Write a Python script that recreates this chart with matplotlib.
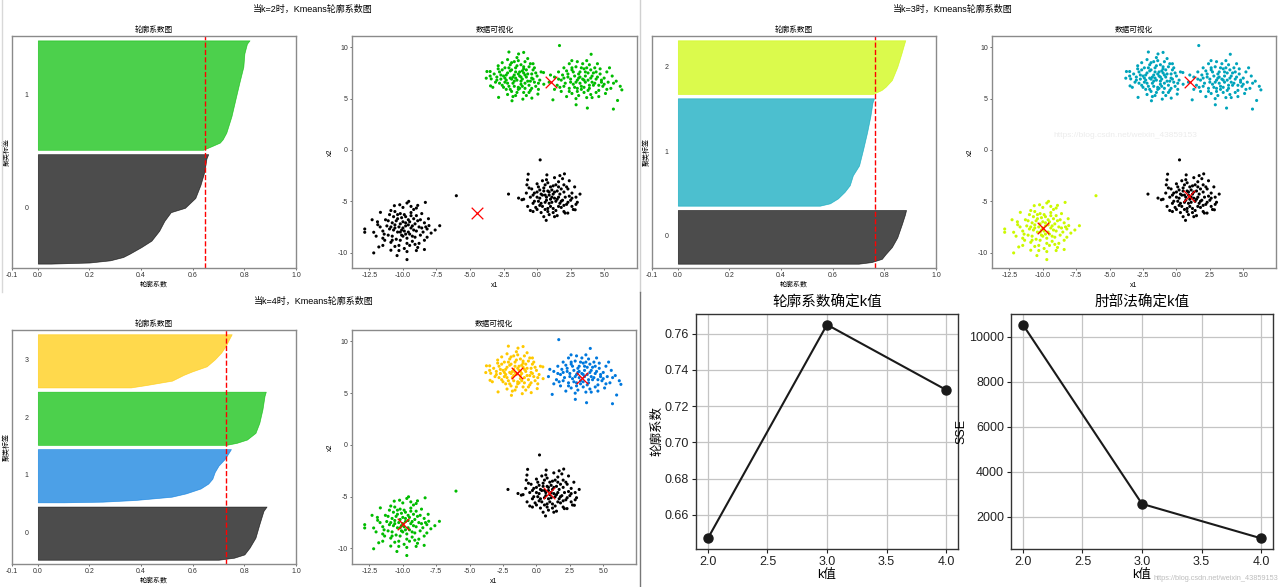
import numpy as np
import matplotlib
matplotlib.use("Agg")
import matplotlib.pyplot as plt
from matplotlib import cm
from matplotlib.lines import Line2D

plt.rcParams['font.family'] = ['Liberation Sans', 'Noto Sans CJK SC', 'DejaVu Sans']
plt.rcParams['axes.unicode_minus'] = False

# ---------------- data ----------------
k_values = [2, 3, 4]
sil_scores = [0.647, 0.765, 0.729]
sse_values = [10530, 2570, 1040]

# four point groups (A: upper-left blob, B: upper-right, C: lower-right, D: lower-left)
A_x = [-2.1, -1.38, -1.0, -3.74, -3.5, -3.79, -3.42, -3.47, -2.87, -1.87, -1.06, -0.39, 0.06, 0.48,
       -2.5, -2.2, -1.9, -1.6, -1.3, -1.0, -0.7, -0.4, -0.2, -0.6, -0.9, -1.2, -1.5, -1.8, -2.1, -2.4,
       -2.7, -3.0, -2.8, -2.4, -2.0, -1.7, -1.2, -0.9, -0.6, -0.3, 0.0, 0.2, -0.1, -0.5, -1.0, -1.4,
       -1.9, -2.3, -2.6, -3.1, -3.2, -2.9, -2.6, -2.2, -1.5, -0.7, -0.3, 0.3, 0.1, -0.8, -1.6, -2.2,
       -1.3, -1.7, -1.1, -2.0, -0.8, -1.4, -2.3, -1.6, -1.0, -0.5, -2.6, -1.9, -1.2, -0.9, -1.7, -2.0,
       -0.4, -3.3, 0.5,
       -2.3, -1.8, -1.4, -1.1, -0.8, -1.5, -2.1, -2.7, -3.0, -2.5, -2.0, -1.5, -1.1, -0.7, -0.3, -0.1,
       -0.5, -1.0, -1.9, -2.4, -1.3, -0.6, -1.7, -2.2, -1.2, -0.9, -1.6, -2.8, 0.1, -0.2, -1.4, -2.9,
       -3.5, -0.4, -1.8]
A_y = [9.54, 9.35, 9.5, 7.64, 7.64, 6.99, 6.92, 6.24, 5.12, 4.79, 4.95, 5.05, 5.44, 7.54,
       7.2, 7.5, 7.8, 8.0, 7.6, 7.9, 7.4, 7.0, 6.6, 6.3, 6.0, 6.4, 6.8, 6.5, 6.2, 6.6,
       6.9, 7.1, 7.6, 8.0, 8.3, 8.6, 8.3, 8.6, 8.1, 7.8, 7.2, 6.8, 6.2, 5.8, 5.6, 5.9,
       5.7, 5.9, 6.3, 6.6, 7.4, 8.2, 8.5, 8.8, 9.0, 8.9, 8.4, 7.6, 5.9, 5.3, 5.3, 5.4,
       7.2, 7.3, 6.9, 7.0, 7.1, 6.1, 7.3, 7.6, 7.5, 6.7, 7.8, 6.9, 6.7, 6.5, 6.2, 7.7,
       7.4, 6.1, 6.4,
       6.8, 7.1, 7.4, 7.7, 7.8, 8.2, 8.0, 7.3, 6.8, 6.1, 5.9, 5.6, 6.2, 6.7, 6.9, 7.5,
       8.4, 8.1, 8.5, 7.0, 6.0, 5.6, 6.7, 6.5, 7.1, 7.3, 7.0, 6.5, 6.5, 8.0, 8.7, 7.9,
       7.2, 6.0, 5.2]
B_x = [1.67, 4.03, 2.59, 6.32, 6.0, 5.69, 3.75, 2.91, 1.18,
       2.0, 2.3, 2.6, 2.9, 3.2, 3.5, 3.8, 4.1, 4.4, 4.7, 5.0, 5.3, 4.9, 4.6, 4.2, 3.9, 3.6, 3.3,
       3.0, 2.7, 2.4, 2.1, 1.8, 1.5, 1.3, 1.6, 2.0, 2.4, 3.0, 3.4, 3.9, 4.3, 4.7, 5.2, 5.6, 5.9,
       5.5, 5.1, 4.6, 4.0, 3.5, 3.1, 2.6, 2.2, 1.8, 1.3, 0.9, 1.0, 3.2, 3.6, 2.8, 3.4, 3.0, 3.8,
       2.5, 4.1, 3.3, 2.2, 4.4, 3.7, 2.9, 4.8, 1.7, 5.4, 6.2,
       3.1, 3.6, 4.0, 4.5, 4.8, 4.3, 3.9, 3.5, 3.2, 2.8, 2.5, 2.3, 2.7, 3.3, 3.7, 4.2, 5.0, 5.2,
       4.4, 3.8, 3.0, 2.4, 2.0, 1.6, 2.9, 3.5, 4.0, 4.6, 3.1, 2.6, 3.7, 4.5, 5.7, 1.9, 4.1]
B_y = [10.17, 9.32, 8.7, 5.85, 4.82, 3.98, 4.08, 4.4, 4.88,
       7.0, 7.4, 7.8, 8.1, 7.6, 7.9, 7.5, 7.2, 6.9, 7.4, 7.0, 6.6, 6.2, 5.8, 6.3, 6.0, 6.6, 6.2,
       6.8, 6.4, 6.0, 6.5, 6.8, 6.3, 7.1, 7.6, 8.0, 8.4, 8.6, 8.4, 8.3, 8.0, 7.9, 7.6, 7.2, 6.7,
       6.0, 5.5, 5.2, 5.4, 5.6, 5.3, 5.5, 5.2, 5.7, 5.9, 6.6, 7.3, 7.1, 7.2, 7.2, 6.9, 6.0, 6.8,
       6.9, 6.6, 5.9, 7.7, 7.6, 5.1, 5.0, 6.6, 6.1, 8.0, 6.2,
       7.4, 7.6, 7.8, 7.1, 6.8, 6.5, 6.3, 6.1, 6.5, 6.1, 6.6, 7.1, 7.6, 8.0, 8.0, 7.5, 6.4, 5.9,
       5.6, 5.8, 5.7, 5.7, 6.2, 6.9, 6.6, 6.8, 7.0, 6.3, 7.0, 8.0, 8.7, 8.4, 6.5, 7.3, 5.1]
C_x = [0.23, -0.66, 0.73, 2.04, -0.71, -0.76, -2.13, -1.38, -1.13, 0.68, 2.84, 2.09, 2.29,
       0.0, 0.4, 0.8, 1.2, 1.6, 2.0, 2.3, 2.6, 2.9, 2.5, 2.2, 1.8, 1.4, 1.0, 0.6, 0.2, -0.2, -0.5,
       -0.8, -0.4, 0.0, 0.4, 0.8, 1.2, 1.6, 2.0, 1.4, 1.0, 0.6, 0.2, -0.1, 0.3, 0.9, 1.5, 2.0, 2.6,
       3.0, 3.2, 2.8, 2.4, 1.9, 1.3, 0.7, 0.1, -0.6, -1.0, -0.7, -0.3, 0.5, 1.2, 1.7, 1.1, 0.7, 1.5,
       0.3, 1.9, 2.4, 0.9, 1.3, 0.5, -0.3, 2.7, 1.6, 0.8,
       0.5, 0.9, 1.3, 1.7, 2.1, 1.8, 1.1, 0.7, 0.3, 0.0, -0.3, 0.1, 0.4, 0.8, 1.2, 1.6, 2.3, 2.6,
       2.2, 1.8, 1.4, 1.0, 0.6, 0.2, -0.2, 1.5, 0.9, 1.1, 0.6, 2.0, 1.3, 0.0, 2.9, -0.5, 1.7]
C_y = [-0.97, -2.36, -2.43, -2.33, -2.91, -3.4, -4.3, -4.69, -4.85, -6.86, -5.83, -6.15, -6.15,
       -3.3, -3.0, -3.2, -3.5, -3.1, -3.4, -3.8, -4.2, -4.6, -4.9, -5.3, -5.6, -5.9, -5.5, -5.8, -5.4,
       -5.0, -4.6, -4.2, -3.8, -4.1, -4.4, -4.0, -4.3, -4.6, -4.1, -5.0, -4.8, -5.1, -4.7, -5.6, -6.1,
       -6.3, -6.4, -6.0, -5.5, -5.1, -4.3, -3.6, -3.0, -2.8, -2.7, -2.9, -3.6, -3.7, -4.8, -5.5, -6.0,
       -6.5, -6.1, -5.2, -3.9, -4.6, -4.0, -5.2, -4.9, -4.5, -5.2, -4.7, -3.7, -4.4, -5.8, -3.6, -5.7,
       -4.0, -4.4, -4.1, -4.3, -4.6, -5.0, -5.1, -4.9, -4.3, -4.6, -5.2, -5.0, -5.5, -6.0, -5.7, -5.5,
       -5.1, -4.7, -3.6, -3.8, -3.4, -3.6, -3.4, -3.9, -4.2, -4.8, -4.1, -4.6, -4.4, -5.4, -6.5, -5.8,
       -5.3, -5.9, -2.5]
D_x = [-6.02, -9.57, -9.7, -10.64, -10.24, -8.33, -9.0, -11.68, -12.85, -12.85, -12.18, -11.88,
       -7.26, -8.06, -8.2, -12.18, -11.8, -10.9, -10.44, -9.7, -8.4, -11.36,
       -11.0, -10.6, -10.2, -9.8, -9.4, -9.0, -8.7, -8.4, -8.8, -9.2, -9.6, -10.0, -10.4, -10.8,
       -11.2, -11.5, -11.1, -10.7, -10.3, -9.9, -9.5, -9.1, -8.7, -8.4, -8.8, -9.3, -9.7, -10.1,
       -10.5, -10.9, -10.3, -9.9, -9.5, -11.3, -11.7, -10.9, -9.2, -8.6, -8.1, -7.9, -8.2, -9.0,
       -9.7, -10.6, -11.5, -12.0, -10.0, -9.8, -10.2, -10.6, -9.4, -10.8, -9.6, -10.4, -9.1, -11.0,
       -10.1, -9.3, -12.3,
       -10.2, -9.8, -9.5, -9.2, -9.9, -10.5, -10.9, -10.4, -10.0, -9.6, -9.0, -8.6, -8.9, -9.4,
       -10.7, -11.1, -11.4, -10.8, -10.2, -9.7, -9.1, -8.5, -8.3, -9.3, -10.1, -10.6, -9.8, -9.4,
       -10.0, -8.9, -11.9, -10.3, -8.9, -11.5, -7.6]
D_y = [-4.46, -5.01, -5.17, -5.43, -5.34, -5.11, -5.66, -6.08, -7.7, -8.02, -8.02, -7.28,
       -7.38, -7.37, -7.7, -10.03, -9.45, -9.77, -10.29, -10.68, -9.7, -8.8,
       -6.3, -6.0, -6.2, -6.5, -6.1, -6.4, -6.8, -7.1, -7.5, -7.8, -7.3, -7.0, -6.7, -7.1,
       -7.4, -7.9, -8.3, -7.8, -7.5, -7.9, -8.2, -8.5, -8.3, -8.8, -9.1, -8.9, -8.6, -8.3,
       -8.7, -9.0, -9.3, -9.6, -9.3, -6.8, -7.5, -5.9, -5.8, -6.2, -6.7, -8.1, -8.5, -9.8,
       -9.9, -9.4, -8.6, -8.4, -7.6, -7.1, -8.0, -7.3, -7.6, -8.4, -6.8, -6.3, -7.2, -7.7,
       -6.6, -8.4, -6.8,
       -7.2, -7.4, -7.0, -6.7, -6.3, -6.9, -7.5, -8.0, -8.4, -8.0, -7.9, -7.6, -6.9, -6.4,
       -6.5, -6.9, -8.2, -8.8, -8.8, -9.1, -9.2, -8.0, -7.5, -7.4, -7.8, -7.6, -8.2, -5.5,
       -5.6, -5.4, -7.0, -9.8, -9.5, -9.3, -7.8]

# cluster label of each group (A, B, C, D) for each k
labels_k2 = [1, 1, 0, 0]
labels_k3 = [1, 1, 0, 2]
labels_k4 = [3, 1, 0, 2]

# cluster centres
centers_k2_x = [1.05, -4.51]
centers_k2_y = [6.6, -6.15]
centers_k3_x = [0.96, 1.05, -9.98]
centers_k3_y = [-4.53, 6.6, -7.6]
centers_k4_x = [0.94, 3.43, -9.98, -1.42]
centers_k4_y = [-4.61, 6.43, -7.65, 6.92]

# silhouette profiles: sorted silhouette values read at relative positions inside each band
k2_sizes = [250, 250]
k2_c0_f = [0.0, 0.01, 0.03, 0.06, 0.09, 0.15, 0.21, 0.30, 0.39, 0.47, 0.51, 0.60, 0.72, 0.84, 0.96, 1.0]
k2_c0_v = [0.05, 0.20, 0.28, 0.33, 0.355, 0.40, 0.44, 0.47, 0.49, 0.515, 0.57, 0.61, 0.63, 0.645, 0.653, 0.66]
k2_c1_f = [0.0, 0.036, 0.066, 0.096, 0.157, 0.307, 0.458, 0.608, 0.759, 0.88, 0.97, 1.0]
k2_c1_v = [0.64, 0.676, 0.705, 0.716, 0.73, 0.75, 0.765, 0.78, 0.796, 0.80, 0.81, 0.82]

k3_sizes = [125, 250, 125]
k3_c0_f = [0.0, 0.03, 0.09, 0.18, 0.31, 0.49, 0.74, 0.92, 1.0]
k3_c0_v = [0.70, 0.75, 0.79, 0.805, 0.829, 0.85, 0.868, 0.88, 0.884]
k3_c1_f = [0.0, 0.022, 0.068, 0.129, 0.191, 0.283, 0.375, 0.529, 0.683, 0.837, 0.96, 1.0]
k3_c1_v = [0.55, 0.589, 0.62, 0.646, 0.666, 0.678, 0.702, 0.718, 0.733, 0.746, 0.754, 0.76]
k3_c2_f = [0.0, 0.074, 0.136, 0.26, 0.506, 0.753, 0.938, 1.0]
k3_c2_v = [0.755, 0.789, 0.805, 0.829, 0.85, 0.866, 0.877, 0.881]

k4_sizes = [125, 125, 125, 125]
k4_c0_f = [0.0, 0.038, 0.10, 0.226, 0.415, 0.667, 0.918, 1.0]
k4_c0_v = [0.70, 0.76, 0.80, 0.82, 0.843, 0.858, 0.874, 0.886]
k4_c1_f = [0.0, 0.012, 0.043, 0.105, 0.167, 0.259, 0.352, 0.444, 0.568, 0.691, 0.815, 0.938, 1.0]
k4_c1_v = [0.10, 0.25, 0.376, 0.518, 0.573, 0.63, 0.66, 0.676, 0.685, 0.70, 0.724, 0.74, 0.748]
k4_c2_f = [0.0, 0.038, 0.10, 0.226, 0.415, 0.667, 0.918, 1.0]
k4_c2_v = [0.73, 0.77, 0.81, 0.843, 0.858, 0.87, 0.878, 0.883]
k4_c3_f = [0.0, 0.045, 0.128, 0.237, 0.30, 0.397, 0.526, 0.654, 0.782, 0.91, 1.0]
k4_c3_v = [0.36, 0.42, 0.52, 0.565, 0.597, 0.654, 0.685, 0.71, 0.728, 0.741, 0.751]

sil_ticks = [-0.1, 0, 0.2, 0.4, 0.6, 0.8, 1.0]

# ---------------- figure ----------------
W, H = 1280, 587
fig = plt.figure(figsize=(W / 100, H / 100), dpi=100)


def rect(l, t, r, b):
    return [l / W, 1 - b / H, (r - l) / W, (b - t) / H]


groups_x = [A_x, B_x, C_x, D_x]
groups_y = [A_y, B_y, C_y, D_y]

GRAY = '#8a8a8a'
FS = 5


def style_small(ax):
    for s in ax.spines.values():
        s.set_color(GRAY)
        s.set_linewidth(1.0)
    ax.tick_params(labelsize=FS, length=1.5, width=0.5, colors='#333333', pad=1.5)


def silhouette_panel(ax, k, sizes, profiles, score):
    y_lower = 10
    for i in range(k):
        f, v = profiles[i]
        size = sizes[i]
        yy = y_lower + np.array(f) * size
        color = cm.nipy_spectral(float(i) / k)
        ax.fill_betweenx(yy, 0, v, facecolor=color, edgecolor=color, alpha=0.7, lw=0.5)
        ax.text(-0.05, y_lower + 0.5 * size, str(i), fontsize=FS, va='center', color='#333333')
        y_lower = y_lower + size + 10
    ax.axvline(x=score, color='red', linestyle='--', lw=1.0)
    ax.set_xlim(-0.1, 1.0)
    ax.set_ylim(0, sum(sizes) + (k + 1) * 10)
    ax.set_yticks([])
    ax.set_xticks(sil_ticks)
    ax.set_xticklabels(['-0.1', '0.0', '0.2', '0.4', '0.6', '0.8', '1.0'])
    ax.set_title('轮廓系数图', fontsize=5.5, pad=3)
    ax.set_xlabel('轮廓系数', fontsize=5, labelpad=2)
    ax.set_ylabel('聚类标签', fontsize=5, labelpad=1)
    style_small(ax)


def scatter_panel(ax, k, labels, cx, cy):
    xs, ys, cs = [], [], []
    for g in range(4):
        col = cm.nipy_spectral(float(labels[g]) / k)
        xs += groups_x[g]
        ys += groups_y[g]
        cs += [col] * len(groups_x[g])
    ax.scatter(xs, ys, s=5, c=cs, marker='o', lw=0)
    ax.scatter(cx, cy, marker='x', c='red', s=70, lw=0.9)
    ax.set_xlim(-13.8, 7.45)
    ax.set_ylim(-11.5, 11.1)
    ax.set_xticks([-12.5, -10.0, -7.5, -5.0, -2.5, 0.0, 2.5, 5.0])
    ax.set_yticks([-10, -5, 0, 5, 10])
    ax.set_title('数据可视化', fontsize=5.5, pad=3)
    ax.set_xlabel('x1', fontsize=5, labelpad=2)
    ax.set_ylabel('x2', fontsize=5, labelpad=3)
    style_small(ax)


# k = 2 (top left)
ax = fig.add_axes(rect(12, 36, 296, 268))
silhouette_panel(ax, 2, k2_sizes, [(k2_c0_f, k2_c0_v), (k2_c1_f, k2_c1_v)], sil_scores[0])
ax = fig.add_axes(rect(352, 36, 637, 268))
scatter_panel(ax, 2, labels_k2, centers_k2_x, centers_k2_y)
fig.text(313 / W, 1 - 9 / H, '当k=2时，Kmeans轮廓系数图', ha='center', va='center', fontsize=6.5)

# k = 3 (top right)
ax = fig.add_axes(rect(652, 36, 936, 268))
silhouette_panel(ax, 3, k3_sizes, [(k3_c0_f, k3_c0_v), (k3_c1_f, k3_c1_v), (k3_c2_f, k3_c2_v)], sil_scores[1])
ax = fig.add_axes(rect(992, 36, 1276, 268))
scatter_panel(ax, 3, labels_k3, centers_k3_x, centers_k3_y)
fig.text(953 / W, 1 - 9 / H, '当k=3时，Kmeans轮廓系数图', ha='center', va='center', fontsize=6.5)
fig.text(1125 / W, 1 - 135 / H, 'https://blog.csdn.net/weixin_43859153', ha='center', va='center',
         fontsize=6, color='#ececec')

# k = 4 (bottom left)
ax = fig.add_axes(rect(12, 330, 296, 564))
silhouette_panel(ax, 4, k4_sizes,
                 [(k4_c0_f, k4_c0_v), (k4_c1_f, k4_c1_v), (k4_c2_f, k4_c2_v), (k4_c3_f, k4_c3_v)],
                 sil_scores[2])
ax = fig.add_axes(rect(352, 330, 636, 564))
scatter_panel(ax, 4, labels_k4, centers_k4_x, centers_k4_y)
fig.text(314 / W, 1 - 301 / H, '当k=4时，Kmeans轮廓系数图', ha='center', va='center', fontsize=6.5)

# bottom right: score vs k and SSE vs k
for (l, r), vals, title, ylab in [((696, 958), sil_scores, '轮廓系数确定k值', '轮廓系数'),
                                  ((1011, 1273), sse_values, '肘部法确定k值', 'SSE')]:
    ax = fig.add_axes(rect(l, 314, r, 549))
    ax.plot(k_values, vals, color='#1a1a1a', marker='o', markersize=6.5, lw=1.5)
    ax.grid(True, color='#c4c4c4', lw=0.9)
    ax.set_axisbelow(True)
    ax.set_xticks([2.0, 2.5, 3.0, 3.5, 4.0])
    ax.set_title(title, fontsize=10.5, pad=5)
    ax.set_xlabel('k值', fontsize=9, labelpad=1)
    ax.set_ylabel(ylab, fontsize=9, labelpad=1)
    ax.tick_params(labelsize=9, length=3, width=0.8, colors='#222222', pad=2)
    for s in ax.spines.values():
        s.set_color('#333333')
        s.set_linewidth(1.0)

fig.text(1278 / W, 1 - 578 / H, 'https://blog.csdn.net/weixin_43859153', ha='right', va='center',
         fontsize=5.3, color='#bdbdbd')

# panel dividers
fig.add_artist(Line2D([640 / W, 640 / W], [1 - 292 / H, 1.0], color='#d0d0d0', lw=1))
fig.add_artist(Line2D([640 / W, 640 / W], [0, 1 - 292 / H], color='#777777', lw=1))
fig.add_artist(Line2D([1.5 / W, 1.5 / W], [1 - 292 / H, 1.0], color='#d8d8d8', lw=1))

fig.savefig('out.png', dpi=100)
